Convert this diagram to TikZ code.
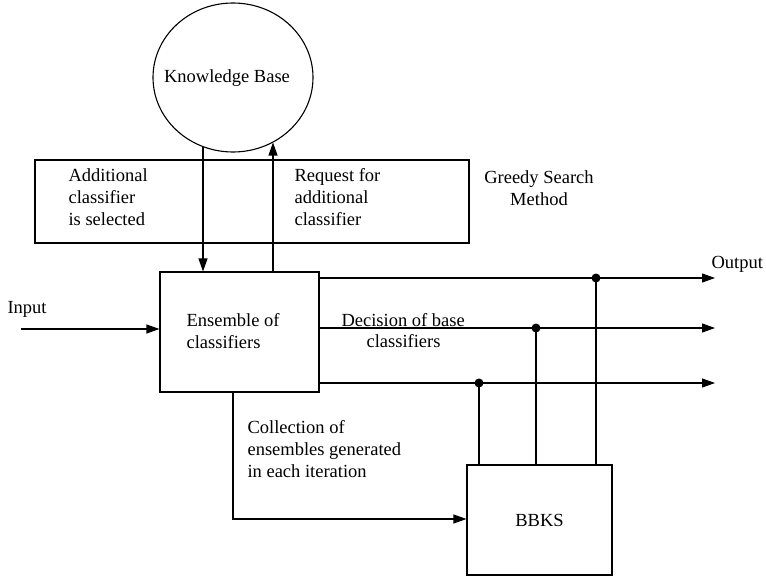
\documentclass[tikz,border=0pt]{standalone}
\usepackage{fontspec}
\setmainfont{Liberation Serif}
\usetikzlibrary{shapes.geometric,arrows.meta}
\begin{document}
\begin{tikzpicture}[x=1pt,y=-1pt,
  line width=1.1pt,
  every node/.style={font=\fontsize{18.5}{22}\selectfont},
  arr/.style={-{Triangle[length=13pt,width=9pt]}},
  boxnode/.style={draw,rectangle,inner sep=0pt},
  lbl/.style={inner sep=0pt,anchor=base west,align=left},
  junction/.style={circle,fill,inner sep=0pt,minimum size=9pt}]
\useasboundingbox (0,0) rectangle (766,578);

% main blocks
\node[draw,ellipse,minimum width=160pt,minimum height=149pt,inner sep=0pt] (kb) at (233,77.5) {};
\node[inner sep=0pt,anchor=base] (kbtext) at (227,83) {Knowledge Base};
\node[boxnode,minimum width=434pt,minimum height=83pt] (gs) at (252,201.5) {};
\node[boxnode,minimum width=159pt,minimum height=120pt] (ens) at (239.5,332) {};
\node[boxnode,minimum width=145pt,minimum height=110pt] (bbks) at (539.5,520) {BBKS};

% exchange with the knowledge base
\coordinate (kbin) at (203,147);
\coordinate (kbout) at (273,142.5);
\draw[arr] (kbin) -- (ens.north -| kbin);
\draw[arr] (ens.north -| kbout) -- (kbout);

% input
\coordinate (in) at (21,329);
\draw[arr] (in) -- (ens.west |- in);

% decision outputs
\coordinate (o1) at (715,278);
\coordinate (o2) at (715,328);
\coordinate (o3) at (715,383);
\draw[arr] (ens.east |- o1) -- (o1);
\draw[arr] (ens.east |- o2) -- (o2);
\draw[arr] (ens.east |- o3) -- (o3);

% taps into BBKS
\node[junction] (j1) at (596,278) {};
\node[junction] (j2) at (536,328) {};
\node[junction] (j3) at (479,383) {};
\draw (j1.center) -- (j1.center |- bbks.north);
\draw (j2.center) -- (j2.center |- bbks.north);
\draw (j3.center) -- (j3.center |- bbks.north);

% collection of ensembles
\coordinate (cb) at (233,519);
\draw[arr] (ens.south -| cb) -- (cb) -- (bbks.west |- cb);

% labels (multi-line labels are placed by the baseline of their last line)
\node[lbl] (linput) at (7,313) {Input};
\node[lbl] (lens) at (186,348) {Ensemble of\\classifiers};
\node[lbl] (ladd) at (68,225) {Additional\\classifier\\is selected};
\node[lbl] (lreq) at (294,225) {Request for\\additional\\classifier};
\node[inner sep=0pt,anchor=base,align=center] (lgs) at (539,205) {Greedy Search\\Method};
\node[lbl] (lout) at (711,268) {Output};
\node[lbl] (ldec1) at (341,326) {Decision of base};
\node[lbl] (ldec2) at (366,347) {classifiers};
\node[lbl] (lcol) at (247,477) {Collection of\\ensembles generated\\in each iteration};
\end{tikzpicture}
\end{document}
